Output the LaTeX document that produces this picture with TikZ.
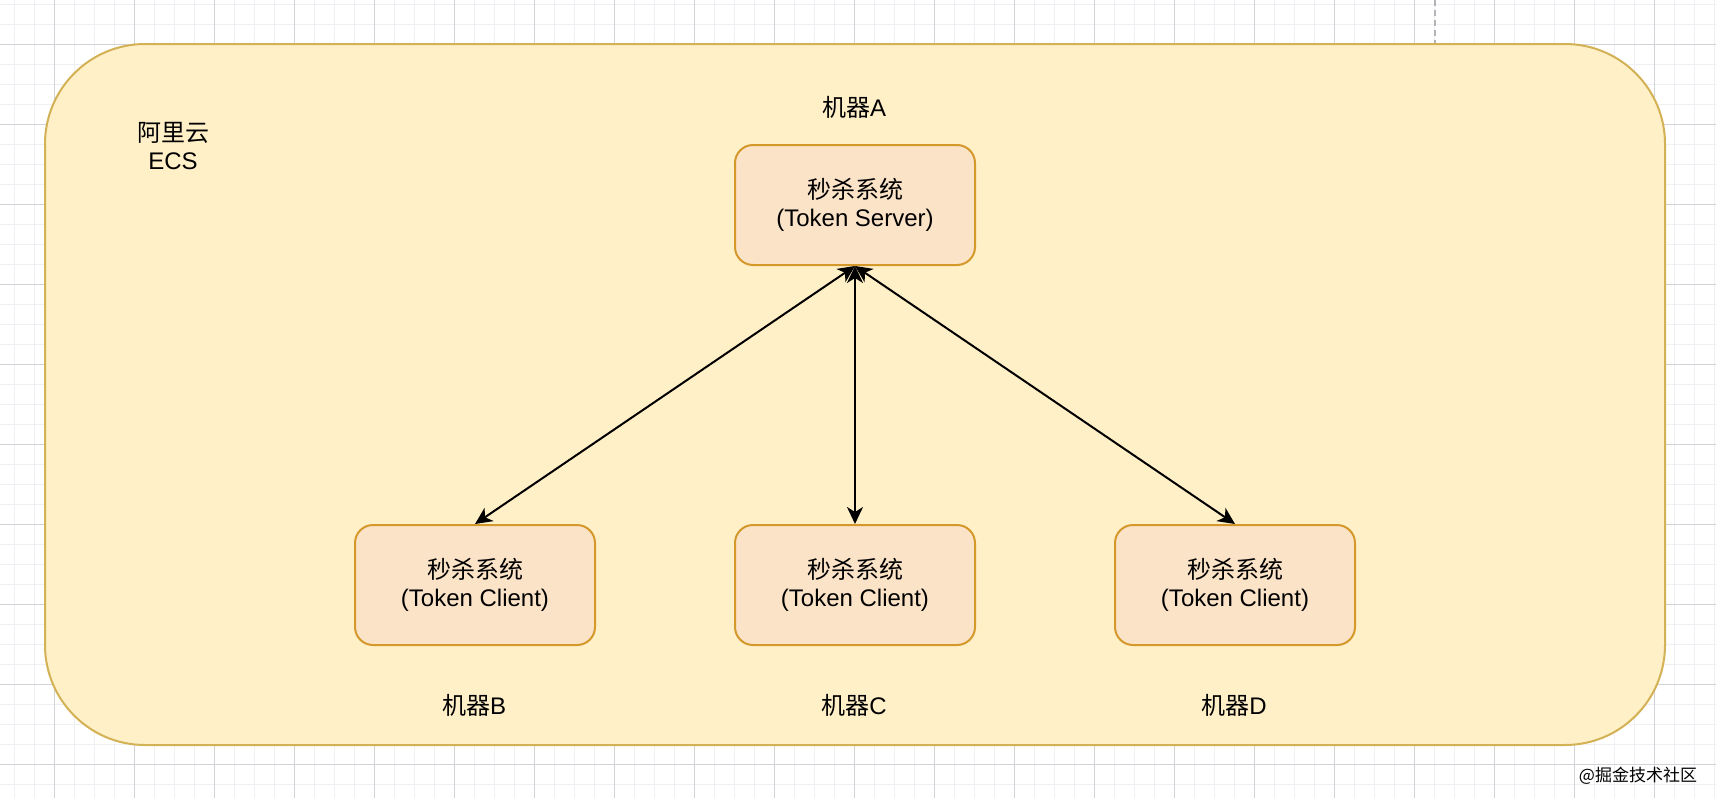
\documentclass[tikz,border=0pt]{standalone}
\usepackage{fontspec}
\setmainfont{Liberation Sans}
\newfontfamily\cjk{Noto Sans CJK SC}
\usetikzlibrary{arrows.meta}
\definecolor{gridminor}{HTML}{EEF0F4}
\definecolor{gridmajor}{HTML}{D2D3D7}
\definecolor{ecsfill}{HTML}{FFF0C8}
\definecolor{ecsline}{HTML}{D3B155}
\definecolor{boxfill}{HTML}{FBE3C8}
\definecolor{boxline}{HTML}{D5982A}
\definecolor{dashgray}{HTML}{B4B4B8}
\begin{document}
\begin{tikzpicture}[x=1pt,y=-1pt,
  sysbox/.style={draw=boxline, fill=boxfill, line width=2pt, rounded corners=18pt,
    minimum width=240pt, minimum height=120pt, align=center,
    font=\fontsize{24}{28}\selectfont, inner sep=0pt},
  lbl/.style={align=center, font=\fontsize{24}{28}\selectfont, inner sep=0pt},
  tip/.tip={Stealth[length=17pt,width=16pt,inset=5pt]},
  link/.style={line width=2pt, tip-tip}
]
\useasboundingbox (0,0) rectangle (1716,798);
\fill[white] (0,0) rectangle (1716,798);
% grid
\foreach \x in {14,34,...,1714} \draw[gridminor, line width=1pt] (\x,0) -- (\x,798);
\foreach \y in {4,24,...,798} \draw[gridminor, line width=1pt] (0,\y) -- (1716,\y);
\foreach \x in {54,134,...,1714} \draw[gridmajor, line width=1pt] (\x,0) -- (\x,798);
\foreach \y in {44,124,...,798} \draw[gridmajor, line width=1pt] (0,\y) -- (1716,\y);
\draw[dashgray, line width=2pt, dash pattern=on 6pt off 4pt] (1435,0) -- (1435,44);
% container
\path[draw=ecsline, fill=ecsfill, line width=2pt, rounded corners=100pt] (45,44) rectangle (1665,745);
\node[lbl] (ecslabel) at (173,146) {{\cjk 阿里云}\\ECS};
% boxes
\node[sysbox] (srv) at (855,205) {{\cjk 秒杀系统}\\(Token Server)};
\node[sysbox] (cb) at (475,585) {{\cjk 秒杀系统}\\(Token Client)};
\node[sysbox] (cc) at (855,585) {{\cjk 秒杀系统}\\(Token Client)};
\node[sysbox] (cd) at (1235,585) {{\cjk 秒杀系统}\\(Token Client)};
% machine labels
\node[lbl] (la) at (854,107) {{\cjk 机器}A};
\node[lbl] (lb) at (474,705) {{\cjk 机器}B};
\node[lbl] (lc) at (854,705) {{\cjk 机器}C};
\node[lbl] (ld) at (1234,705) {{\cjk 机器}D};
% connectors
\draw[link] (srv.south) -- (cb.north);
\draw[link] (srv.south) -- (cc.north);
\draw[link] (srv.south) -- (cd.north);
% watermark
\node[font=\cjk\fontsize{17}{20}\selectfont, inner sep=0pt] (wm) at (1638,776) {@掘金技术社区};
\end{tikzpicture}
\end{document}
